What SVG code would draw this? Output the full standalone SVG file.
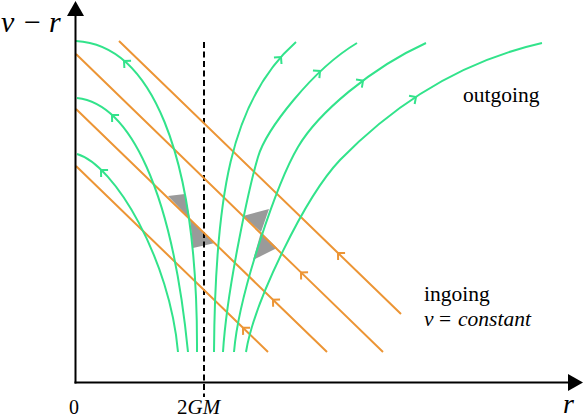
<svg xmlns="http://www.w3.org/2000/svg" xmlns:xlink="http://www.w3.org/1999/xlink" width="583" height="420" viewBox="0 0 583 420">
<style>
.ax{stroke:#000;stroke-width:2;fill:none}
.hor{stroke:#000;stroke-width:2;stroke-dasharray:6,3.5;fill:none}
.out{stroke:#32e38b;stroke-width:2;fill:none}
.in{stroke:#ec9535;stroke-width:2;fill:none;marker-mid:url(#oarr)}
.gch{stroke:#32e38b;stroke-width:2;fill:none}
.cone{fill:#9a9a9a;stroke:none}
text{font-family:'Liberation Serif',serif;fill:#000}
</style>
<defs>
<marker id="oarr" markerUnits="userSpaceOnUse" markerWidth="14" markerHeight="14" refX="0" refY="0" orient="auto" overflow="visible">
<path d="M-5,-5 L0,0 L-5,5" fill="none" stroke="#ec9535" stroke-width="2"/>
</marker>
<path id="gch" d="M-5,-5 L0,0 L-5,5" class="gch"/>
</defs>
<g id="cones">
<polygon class="cone" points="168,196 185,194 190,219 215,243 193,248 190,219"/>
<polygon class="cone" points="243,216 269,209 261,232 277,248 253,260 261,232"/>
</g>
<g id="horizon">
<line class="hor" x1="204" y1="42" x2="204" y2="397"/>
</g>
<g id="ingoing">
<path class="in" d="M401,314 L338,253 L119,41"/>
<path class="in" d="M383,352 L301,272.4 L76,54"/>
<path class="in" d="M327,352 L273,299.7 L76,109"/>
<path class="in" d="M268,352 L243,327.8 L76,166"/>
</g>
<g id="outgoing">
<path class="out" d="M76,41 C150,45 198,150 197,352"/>
<path class="out" d="M77,98 C130,104 172,190 188,352"/>
<path class="out" d="M77,154 C115,165 170,260 178,352"/>
<path class="out" d="M214,352 C215,200 230,100 296,42"/>
<path class="out" d="M223,352 C227,287 250,184 258,157 C266,130 312,70 357,43"/>
<path class="out" d="M234,352 C239,292 278,181 298,147 C318,113 371,68 426,43"/>
<path class="out" d="M246,352 C254,302 305,197 340,160 C375,124 440,66 542,43"/>
<use xlink:href="#gch" transform="translate(124,61) rotate(222)"/>
<use xlink:href="#gch" transform="translate(112,115) rotate(224)"/>
<use xlink:href="#gch" transform="translate(101,170) rotate(224)"/>
<use xlink:href="#gch" transform="translate(281,57) rotate(-49)"/>
<use xlink:href="#gch" transform="translate(320,71) rotate(-40)"/>
<use xlink:href="#gch" transform="translate(363,80.6) rotate(-36)"/>
<use xlink:href="#gch" transform="translate(416,97) rotate(-34)"/>
</g>
<g id="axes">
<line class="ax" x1="75.5" y1="383.5" x2="75.5" y2="14"/>
<polygon points="75.5,1 67,16 84,16" fill="#000"/>
<line class="ax" x1="74.5" y1="382.5" x2="570" y2="382.5"/>
<polygon points="583,382.5 568,374 568,391" fill="#000"/>
</g>
<g id="labels">
<text font-family="Liberation Serif, serif" font-size="30" y="32"><tspan font-style="italic" x="1">v</tspan><tspan x="24">−</tspan><tspan font-style="italic" x="49">r</tspan></text>
<text font-family="Liberation Serif, serif" font-style="italic" font-size="28" x="563" y="413">r</text>
<text font-family="Liberation Serif, serif" font-size="20" x="69" y="414">0</text>
<text font-family="Liberation Serif, serif" font-size="21" x="177" y="414">2<tspan font-style="italic">GM</tspan></text>
<text font-family="Liberation Serif, serif" font-size="21.5" x="463" y="102">outgoing</text>
<text font-family="Liberation Serif, serif" font-size="21.5" x="424" y="301">ingoing</text>
<text font-family="Liberation Serif, serif" font-size="21.5" y="326"><tspan font-style="italic" x="424">v</tspan><tspan x="439">=</tspan><tspan font-style="italic" x="458">constant</tspan></text>
</g>
</svg>
